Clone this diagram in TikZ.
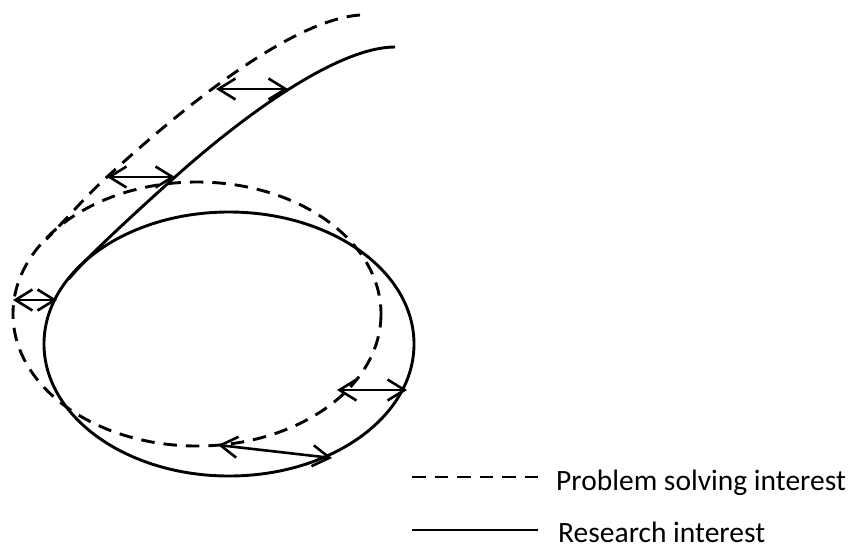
\documentclass[tikz,border=0pt]{standalone}
\usepackage{fontspec}
\setmainfont{Carlito}
\usetikzlibrary{arrows.meta}
\begin{document}
\begin{tikzpicture}[x=1pt,y=-1pt,
  curve/.style={line width=2.9pt},
  dcurve/.style={line width=2.9pt,dash pattern=on 13.5pt off 9pt},
  gap/.style={line width=2.6pt,{Straight Barb[length=17pt,width=21pt,line width=2.6pt]}-{Straight Barb[length=17pt,width=21pt,line width=2.6pt]}},
  legtext/.style={anchor=base west,font=\fontsize{29.5}{34}\selectfont,inner sep=0pt}]
\useasboundingbox (0,0) rectangle (858,547);
% dashed curve (problem solving interest)
\draw[dcurve] (360,15) .. controls (290,20) and (180,110) .. (107,177)
  .. controls (85,197) and (74,211) .. (46.3,239.3);
\draw[dcurve] (197,314) ellipse [x radius=184,y radius=132];
% solid curve (research interest)
\draw[curve] (395,47) .. controls (340,47) and (250,110) .. (175,177)
  .. controls (145,204) and (87.7,255.7) .. (68.8,279);
\draw[curve] (229,344) ellipse [x radius=185,y radius=132];
% arrow end points
\coordinate (a1) at (216,89);  \coordinate (b1) at (288,89);
\coordinate (a2) at (107,177); \coordinate (b2) at (175,177);
\coordinate (a3) at (13,300);  \coordinate (b3) at (57,300);
\coordinate (a4) at (337,390); \coordinate (b4) at (407,390);
\coordinate (a5) at (218,445); \coordinate (b5) at (332,458);
\foreach \i in {1,...,5} \draw[gap] (a\i) -- (b\i);
% legend
\coordinate (l1a) at (412,477); \coordinate (l1b) at (538,477);
\coordinate (l2a) at (412,530); \coordinate (l2b) at (538,530);
\draw[dcurve] (l1a) -- (l1b);
\draw[curve] (l2a) -- (l2b);
\node[legtext] (t1) at (556,490) {Problem solving interest};
\node[legtext] (t2) at (558,542) {Research interest};
\end{tikzpicture}
\end{document}
